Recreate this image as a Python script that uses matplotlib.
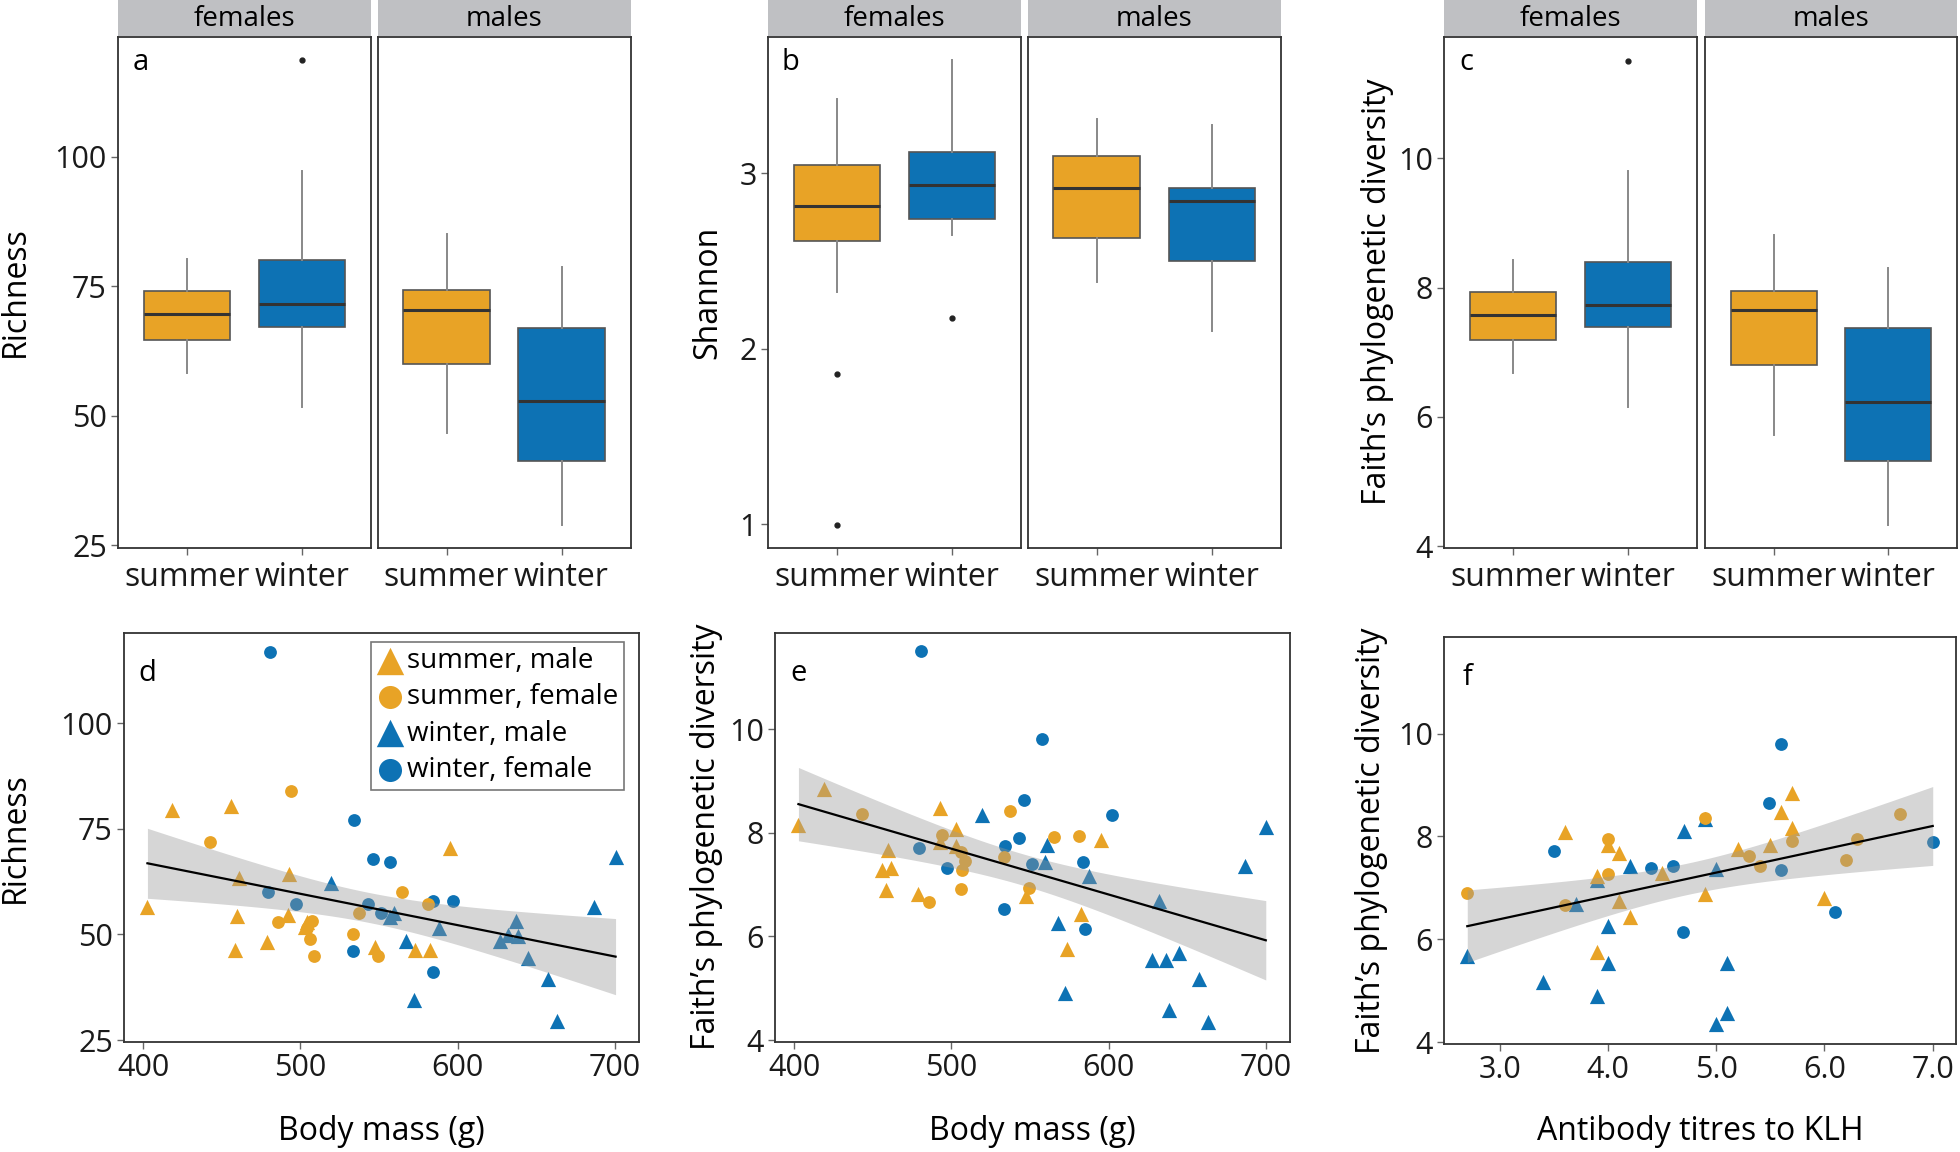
import numpy as np
import matplotlib
matplotlib.use("Agg")
import matplotlib.pyplot as plt
from matplotlib.ticker import FormatStrFormatter

plt.rcParams['font.family'] = ['Open Sans', 'DejaVu Sans']

ORANGE = '#E8A326'
BLUE = '#0D72B4'
STRIP = '#BFC0C3'

# ---- box plot summaries, order: females summer, females winter, males summer, males winter
rich_lo = [58.3, 51.7, 46.6, 29.0]
rich_q1 = [64.6, 67.1, 60.0, 41.3]
rich_med = [69.6, 71.5, 70.4, 52.8]
rich_q3 = [74.1, 80.0, 74.3, 67.0]
rich_hi = [80.2, 97.3, 85.0, 78.8]
rich_out = [[], [118.6], [], []]

shannon_lo = [2.326, 2.650, 2.381, 2.103]
shannon_q1 = [2.615, 2.742, 2.632, 2.503]
shannon_med = [2.814, 2.932, 2.917, 2.840]
shannon_q3 = [3.048, 3.123, 3.098, 2.919]
shannon_hi = [3.427, 3.646, 3.309, 3.274]
shannon_out = [[1.856, 0.996], [2.173], [], []]

faith_lo = [6.68, 6.15, 5.72, 4.33]
faith_q1 = [7.19, 7.39, 6.81, 5.32]
faith_med = [7.58, 7.73, 7.65, 6.23]
faith_q3 = [7.93, 8.40, 7.95, 7.37]
faith_hi = [8.43, 9.81, 8.81, 8.31]
faith_out = [[], [11.51], [], []]

seasons = ['summer', 'winter']
sexes = ['females', 'males']

# ---- panel d: body mass vs richness (sm = summer male, sf = summer female, ...)
d_sm_x = [402.8, 418.6, 455.8, 460.9, 459.8, 458.5, 478.6, 492.9, 492.4, 502.7, 504.5, 547.2, 573.2, 582.4, 595.3]
d_sm_y = [56.4, 79.4, 80.3, 63.3, 54.3, 46.4, 48.3, 64.2, 54.5, 51.7, 53.0, 47.0, 46.4, 46.4, 70.4]
d_sf_x = [442.7, 485.6, 493.9, 504.0, 506.2, 507.3, 508.6, 533.8, 537.3, 549.4, 564.9, 581.1]
d_sf_y = [72.0, 52.9, 84.0, 51.5, 49.0, 53.1, 45.0, 50.0, 55.0, 45.0, 60.1, 57.1]
d_wm_x = [519.6, 557.0, 559.9, 567.5, 572.6, 587.9, 627.3, 632.2, 637.0, 638.7, 644.6, 657.3, 663.5, 686.9, 700.5]
d_wm_y = [62.2, 54.2, 55.1, 48.4, 34.4, 51.5, 48.4, 49.8, 53.3, 49.6, 44.4, 39.5, 29.5, 56.4, 68.4]
d_wf_x = [479.3, 480.8, 497.0, 533.8, 534.2, 542.8, 546.5, 551.1, 557.2, 584.2, 584.6, 597.1]
d_wf_y = [60.1, 116.9, 57.1, 46.1, 77.0, 57.1, 67.9, 55.0, 67.1, 58.0, 41.1, 58.0]

# ---- panel e: body mass vs Faith's PD
e_sm_x = [402.8, 418.8, 456.2, 458.4, 459.9, 461.7, 478.7, 492.7, 493.1, 503.0, 503.2, 547.2, 573.4, 582.4, 595.3]
e_sm_y = [8.15, 8.84, 7.28, 6.89, 7.67, 7.33, 6.82, 7.83, 8.47, 7.75, 8.08, 6.78, 5.76, 6.44, 7.86]
e_sf_x = [443.1, 485.9, 494.0, 506.1, 506.1, 507.1, 508.9, 533.8, 537.3, 549.3, 565.1, 581.1]
e_sf_y = [8.36, 6.67, 7.96, 7.63, 6.91, 7.29, 7.46, 7.54, 8.42, 6.93, 7.92, 7.94]
e_wm_x = [519.8, 559.4, 560.9, 567.9, 572.3, 587.6, 627.4, 631.8, 636.6, 638.3, 644.5, 657.4, 663.5, 686.7, 700.0]
e_wm_y = [8.34, 7.44, 7.76, 6.26, 4.91, 7.16, 5.54, 6.68, 5.54, 4.58, 5.68, 5.17, 4.35, 7.36, 8.12]
e_wf_x = [479.4, 480.9, 497.1, 533.8, 534.0, 542.8, 546.5, 551.1, 557.4, 583.9, 584.8, 602.0]
e_wf_y = [7.70, 11.50, 7.33, 6.53, 7.74, 7.90, 8.64, 7.39, 9.81, 7.44, 6.14, 8.34]

# ---- panel f: antibody titres vs Faith's PD
f_sm_x = [3.6, 4.0, 4.1, 3.9, 4.1, 4.2, 3.9, 4.5, 4.9, 5.2, 5.5, 5.6, 5.7, 5.7, 6.0]
f_sm_y = [8.09, 7.84, 7.67, 7.24, 6.75, 6.44, 5.76, 7.30, 6.88, 7.75, 7.84, 8.47, 8.84, 8.16, 6.80]
f_sf_x = [2.7, 3.6, 4.0, 4.0, 4.9, 5.3, 5.4, 5.7, 6.2, 6.3, 6.7]
f_sf_y = [6.91, 6.66, 7.95, 7.28, 8.36, 7.62, 7.43, 7.92, 7.55, 7.96, 8.43]
f_wm_x = [2.7, 3.4, 3.7, 3.9, 4.0, 4.0, 3.9, 4.2, 4.7, 4.9, 5.0, 5.0, 5.1, 5.1]
f_wm_y = [5.67, 5.17, 6.68, 7.16, 6.26, 5.54, 4.90, 7.43, 8.11, 8.33, 7.37, 4.36, 5.54, 4.58]
f_wf_x = [3.5, 4.4, 4.6, 4.69, 5.49, 5.6, 5.6, 6.1, 7.0]
f_wf_y = [7.72, 7.39, 7.43, 6.14, 8.65, 9.79, 7.34, 6.53, 7.90]

T_CRIT = 2.01  # 95% t value for n around 50

W, H = 1960, 1152
fig = plt.figure(figsize=(W / 100, H / 100), dpi=100)


def px_axes(l, t, r, b):
    return fig.add_axes([l / W, 1 - b / H, (r - l) / W, (b - t) / H])


def style_frame(ax):
    for s in ax.spines.values():
        s.set_color('#333333')
        s.set_linewidth(1.3)
    ax.tick_params(length=5, width=1, color='#666666', labelsize=22, labelcolor='#1a1a1a', pad=3)


def box_panel(facets, lo, q1, med, q3, hi, out, ylim, yticks, letter, ylabel, label_x):
    for i, (l, r) in enumerate(facets):
        ax = px_axes(l, 37, r, 548)
        stats = []
        for j in range(2):
            k = 2 * i + j
            stats.append(dict(med=med[k], q1=q1[k], q3=q3[k], whislo=lo[k], whishi=hi[k], fliers=out[k]))
        bp = ax.bxp(stats, positions=[1, 2], widths=0.75, patch_artist=True, showcaps=False,
                    boxprops=dict(edgecolor='#555555', linewidth=1.2),
                    medianprops=dict(color='#333333', linewidth=2.2),
                    whiskerprops=dict(color='#888888', linewidth=1.4),
                    flierprops=dict(marker='o', markersize=3.5, markerfacecolor='#222222',
                                    markeredgecolor='#222222'))
        for patch, c in zip(bp['boxes'], [ORANGE, BLUE]):
            patch.set_facecolor(c)
        ax.set_xlim(0.4, 2.6)
        ax.set_ylim(*ylim)
        ax.set_yticks(yticks)
        ax.set_xticks([1, 2])
        ax.set_xticklabels(seasons)
        style_frame(ax)
        ax.tick_params(axis='x', labelsize=23, pad=4)
        if i == 1:
            ax.tick_params(axis='y', left=False, labelleft=False)
        else:
            ax.text(0.09, 0.95, letter, transform=ax.transAxes, fontsize=21, va='center', ha='center')
        sax = px_axes(l, 0, r, 36)
        sax.set_facecolor(STRIP)
        sax.set_xticks([])
        sax.set_yticks([])
        for s in sax.spines.values():
            s.set_visible(False)
        sax.text(0.5, 0.48, sexes[i], transform=sax.transAxes, ha='center', va='center', fontsize=20)
    fig.text(label_x / W, 1 - 292 / H, ylabel, rotation=90, ha='center', va='center', fontsize=23)


box_panel([(118, 371), (377.5, 630.5)], rich_lo, rich_q1, rich_med, rich_q3, rich_hi, rich_out,
          (24.5, 123.1), [25, 50, 75, 100], 'a', 'Richness', 15)
box_panel([(768, 1021), (1027.5, 1281)], shannon_lo, shannon_q1, shannon_med, shannon_q3, shannon_hi,
          shannon_out, (0.864, 3.778), [1, 2, 3], 'b', 'Shannon', 708)
box_panel([(1444, 1697), (1705, 1957)], faith_lo, faith_q1, faith_med, faith_q3, faith_hi, faith_out,
          (3.97, 11.88), [4, 6, 8, 10], 'c', 'Faith\u2019s phylogenetic diversity', 1377)


def scatter_panel(rect, groups, xlim, ylim, xticks, yticks, letter, xlabel, ylabel, label_x,
                  xfmt=None, legend=False):
    ax = px_axes(*rect)
    handles = {}
    # winter drawn first, summer on top
    for name in ['winter, male', 'winter, female', 'summer, male', 'summer, female']:
        gx, gy = groups[name]
        color = ORANGE if name.startswith('summer') else BLUE
        marker = '^' if name.endswith(' male') else 'o'
        size = 120 if marker == '^' else 85
        handles[name] = ax.scatter(gx, gy, s=size, marker=marker, color=color, linewidths=0, zorder=2)
    allx = np.concatenate([np.asarray(groups[g][0]) for g in groups])
    ally = np.concatenate([np.asarray(groups[g][1]) for g in groups])
    n = len(allx)
    slope, icpt = np.polyfit(allx, ally, 1)
    resid = ally - (slope * allx + icpt)
    s_err = np.sqrt(np.sum(resid ** 2) / (n - 2))
    xs = np.linspace(allx.min(), allx.max(), 100)
    ys = slope * xs + icpt
    se = s_err * np.sqrt(1 / n + (xs - allx.mean()) ** 2 / np.sum((allx - allx.mean()) ** 2))
    ax.fill_between(xs, ys - T_CRIT * se, ys + T_CRIT * se, color='#999999', alpha=0.4, linewidth=0, zorder=3)
    ax.plot(xs, ys, color='black', linewidth=1.6, zorder=4)
    ax.set_xlim(*xlim)
    ax.set_ylim(*ylim)
    ax.set_xticks(xticks)
    ax.set_yticks(yticks)
    if xfmt:
        ax.xaxis.set_major_formatter(FormatStrFormatter(xfmt))
    style_frame(ax)
    ax.text(0.045, 0.9, letter, transform=ax.transAxes, fontsize=21, va='center', ha='center')
    cx = (rect[0] + rect[2]) / 2
    cy = (rect[1] + rect[3]) / 2
    fig.text(cx / W, 1 - 1131 / H, xlabel, ha='center', va='center', fontsize=23)
    fig.text(label_x / W, 1 - cy / H, ylabel, rotation=90, ha='center', va='center', fontsize=23)
    if legend:
        order = ['summer, male', 'summer, female', 'winter, male', 'winter, female']
        leg = ax.legend([handles[k] for k in order], order, loc='upper right',
                        bbox_to_anchor=(0.97, 0.978), fontsize=20, markerscale=1.8,
                        frameon=True, fancybox=False, edgecolor='#555555', handletextpad=0.1,
                        borderpad=0.2, labelspacing=0.3, handlelength=1.0, borderaxespad=0)
        leg.get_frame().set_linewidth(1.2)
        leg.set_zorder(5)
    return ax


scatter_panel((124, 632.5, 639, 1041.7),
              {'summer, male': (d_sm_x, d_sm_y), 'summer, female': (d_sf_x, d_sf_y),
               'winter, male': (d_wm_x, d_wm_y), 'winter, female': (d_wf_x, d_wf_y)},
              (387.9, 715.4), (24.6, 121.5), [400, 500, 600, 700], [25, 50, 75, 100],
              'd', 'Body mass (g)', 'Richness', 15, legend=True)
scatter_panel((775, 632.7, 1290, 1041.7),
              {'summer, male': (e_sm_x, e_sm_y), 'summer, female': (e_sf_x, e_sf_y),
               'winter, male': (e_wm_x, e_wm_y), 'winter, female': (e_wf_x, e_wf_y)},
              (387.9, 715.4), (3.97, 11.86), [400, 500, 600, 700], [4, 6, 8, 10],
              'e', 'Body mass (g)', 'Faith\u2019s phylogenetic diversity', 706)
scatter_panel((1444, 636.7, 1956, 1044),
              {'summer, male': (f_sm_x, f_sm_y), 'summer, female': (f_sf_x, f_sf_y),
               'winter, male': (f_wm_x, f_wm_y), 'winter, female': (f_wf_x, f_wf_y)},
              (2.485, 7.215), (3.97, 11.88), [3, 4, 5, 6, 7], [4, 6, 8, 10],
              'f', 'Antibody titres to KLH', 'Faith\u2019s phylogenetic diversity', 1371, xfmt='%.1f')

fig.savefig('out.png', dpi=100)
